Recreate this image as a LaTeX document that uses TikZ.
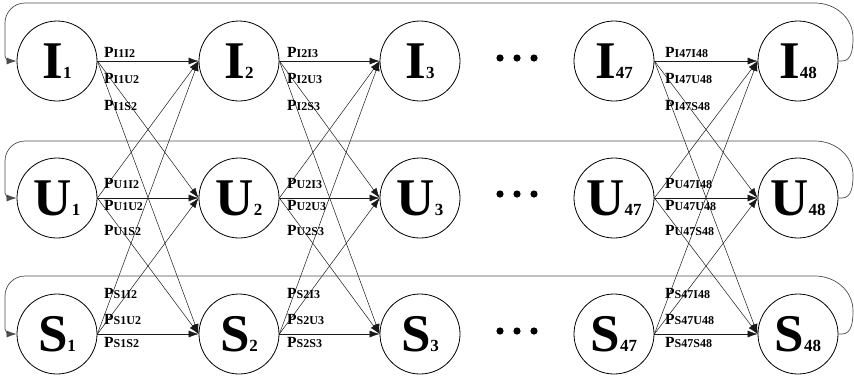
\documentclass[tikz,border=0pt]{standalone}
\usepackage{fontspec}
\setmainfont{Liberation Serif}
\usetikzlibrary{arrows.meta}
\newcommand\stname[2]{{\fontsize{53}{53}\selectfont\bfseries #1}{\fontsize{17}{17}\selectfont\bfseries #2}}
\newcommand\plab[1]{{\fontsize{15.5}{15.5}\selectfont\bfseries P}{\fontsize{12}{12}\selectfont\bfseries #1}}
\begin{document}
\begin{tikzpicture}[x=1pt,y=-1pt,
  state/.style={circle,draw,line width=0.8pt,minimum size=80pt,inner sep=0pt},
  tip/.style={-{Latex[length=10pt,width=7pt]}},
  conn/.style={draw=black!90,line width=0.5pt,tip},
  backline/.style={draw=black!70,line width=0.7pt,tip},
  lab/.style={anchor=base west,inner sep=0pt}]
\useasboundingbox (0,0) rectangle (854,376);
% state nodes
\foreach \r/\y in {I/61,U/198,S/334}{
  \foreach \n/\x in {1/57,2/239,3/420,47/614,48/798}{
    \node[state] (\r\n) at (\x,\y) {\stname{\r}{\n}};
  }
}
% transitions
\foreach \a/\b in {1/2,2/3,47/48}{
  \foreach \s in {I,U,S}{
    \foreach \t in {I,U,S}{
      \draw[conn] (\s\a.east) -- (\t\b.west);
    }
  }
}
% labels
\foreach \a/\b/\lx in {1/2/104,2/3/287,47/48/665}{
  \foreach \s/\y/\oa/\ob/\oc in {I/61/-4/22/49,U/198/-10/12/37,S/334/-36/-10/13}{
    \node[lab] (L\s\a I) at (\lx,\y+\oa) {\plab{\s\a I\b}};
    \node[lab] (L\s\a U) at (\lx,\y+\ob) {\plab{\s\a U\b}};
    \node[lab] (L\s\a S) at (\lx,\y+\oc) {\plab{\s\a S\b}};
  }
}
% feedback loops
\foreach \r/\y/\t in {I/61/3,U/198/141,S/334/276}{
  \draw[backline] (\r48.east) -- (842,\y)
    to[out=0,in=-90] (853,{\t+0.6*(\y-\t)})
    to[out=90,in=0] (815,\t) -- (25,\t)
    to[out=180,in=90] (5,\t+20) -- (5,\y-5)
    to[out=-90,in=180] (10,\y) -- (\r1.west);
}
% ellipsis dots
\foreach \y in {58,194,331}{
  \foreach \x in {500,517,534}{
    \fill (\x,\y) circle (3.6pt);
  }
}
\end{tikzpicture}
\end{document}
